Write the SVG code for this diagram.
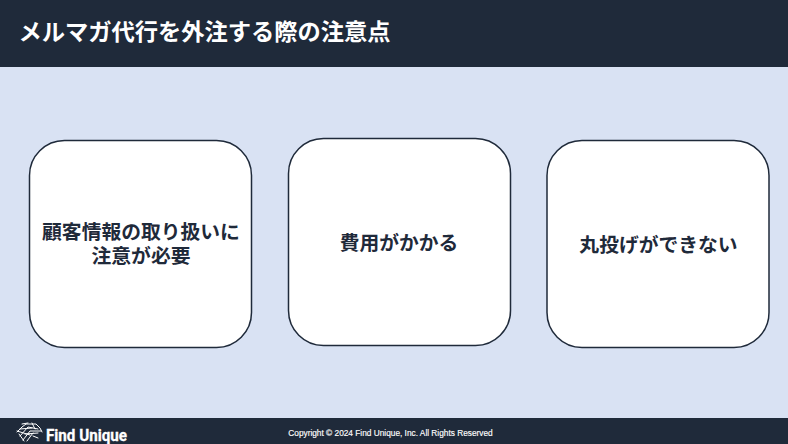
<svg xmlns="http://www.w3.org/2000/svg" width="788" height="444" viewBox="0 0 788 444">
<style>
.jp{font-family:"Noto Sans CJK JP","Noto Sans",sans-serif;font-weight:700}
.card{fill:#fff;stroke:#1f2a3a;stroke-width:1.5}
.lbl{font-size:19.8px;fill:#1f2a3a;text-anchor:middle}
.logo{stroke:#fff;stroke-width:1;fill:none;stroke-linecap:round}
</style>
<rect width="788" height="444" fill="#d9e2f3"/>
<g id="header"><rect width="788" height="67" fill="#1f2a3a"/>
<text class="jp" x="18.500" y="40" font-size="23.25" fill="#fff">メルマガ代行を外注する際の注意点</text></g>
<g id="node1"><rect class="card" x="29.500" y="140.500" width="222" height="207" rx="35"/>
<text class="jp lbl" x="141" y="238.500">顧客情報の取り扱いに</text><text class="jp lbl" x="141" y="262.500">注意が必要</text></g>
<g id="node2"><rect class="card" x="288.500" y="138.500" width="222" height="207" rx="35"/>
<text class="jp lbl" x="399" y="249.500">費用がかかる</text></g>
<g id="node3"><rect class="card" x="547" y="140.500" width="222" height="207" rx="35"/>
<text class="jp lbl" x="658.500" y="251.500">丸投げができない</text></g>
<g id="footer"><rect y="418" width="788" height="26" fill="#1f2a3a"/>
<g class="logo"><path d="M17 432L22 427L26 424L36 424L40 428L42 432M20 436L28 427L38 429M23 440L30 431L41 431M27 441L33 433M17 431L30 435M22 424L28 423M32 423L35 429M20 429L32 428M19 434L24 441M25 434L38 433M33 436L38 438"/></g>
<text x="46" y="440.500" font-family="Roboto,sans-serif" font-weight="700" font-size="17" fill="#fff" stroke="#fff" stroke-width=".3" textLength="81" lengthAdjust="spacingAndGlyphs">Find Unique</text>
<text x="390.500" y="436" font-family="'Liberation Sans',Arial,sans-serif" font-size="8.300" fill="#fff" stroke="#fff" stroke-width=".15" text-anchor="middle">Copyright © 2024 Find Unique, Inc. All Rights Reserved</text></g>
</svg>
